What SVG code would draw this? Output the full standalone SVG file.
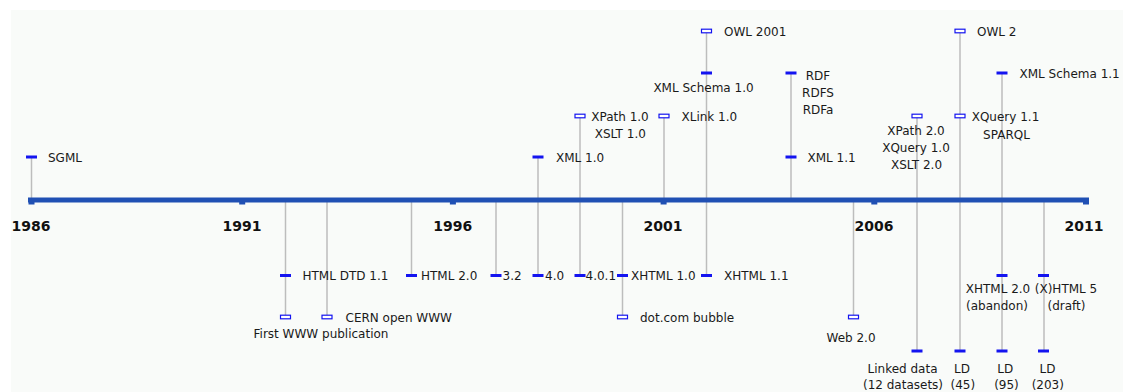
<svg xmlns="http://www.w3.org/2000/svg" width="1123" height="392" viewBox="0 0 1123 392">
<style>
.lbl{font-family:"DejaVu Sans","Liberation Sans",sans-serif;font-size:12px;fill:#1a1a1a}
.mid{text-anchor:middle}
.yr{font-family:"DejaVu Sans","Liberation Sans",sans-serif;font-size:14px;font-weight:bold;fill:#111;text-anchor:middle}
.stem{stroke:#bdbdbd;stroke-width:1.5;fill:none}
.f{fill:#1414f0}
.h{fill:#fff;stroke:#1414f0;stroke-width:1.2}
.axis{fill:#2050b4}
</style>
<defs>
<rect id="mf" class="f" x="-5.5" y="-1.5" width="11" height="3"/>
<rect id="mh" class="h" x="-5" y="-1.8" width="10" height="3.6"/>
</defs>
<rect x="0" y="0" width="1123" height="392" fill="#fff"/>
<rect x="11" y="10" width="1112" height="382" fill="#f9fbf9"/>

<g id="connectors">
<line class="stem" x1="31.5" y1="157" x2="31.5" y2="200"/>
<line class="stem" x1="285.5" y1="200" x2="285.5" y2="317"/>
<line class="stem" x1="327" y1="200" x2="327" y2="317"/>
<line class="stem" x1="411.5" y1="200" x2="411.5" y2="275"/>
<line class="stem" x1="496" y1="200" x2="496" y2="275"/>
<line class="stem" x1="538" y1="157" x2="538" y2="275"/>
<line class="stem" x1="580" y1="116" x2="580" y2="275"/>
<line class="stem" x1="622.5" y1="200" x2="622.5" y2="317"/>
<line class="stem" x1="664" y1="116" x2="664" y2="200"/>
<line class="stem" x1="706.5" y1="31" x2="706.5" y2="275"/>
<line class="stem" x1="791" y1="73" x2="791" y2="200"/>
<line class="stem" x1="853.5" y1="200" x2="853.5" y2="317"/>
<line class="stem" x1="917" y1="116" x2="917" y2="351"/>
<line class="stem" x1="960" y1="31" x2="960" y2="351"/>
<line class="stem" x1="1002" y1="73" x2="1002" y2="351"/>
<line class="stem" x1="1044" y1="200" x2="1044" y2="351"/>
</g>

<g id="axis">
<rect class="axis" x="28" y="197.5" width="1061" height="5"/>
<rect class="axis" x="28.5" y="201" width="6" height="3.5"/>
<rect class="axis" x="239.2" y="201" width="6" height="3.5"/>
<rect class="axis" x="449.9" y="201" width="6" height="3.5"/>
<rect class="axis" x="660.6" y="201" width="6" height="3.5"/>
<rect class="axis" x="871.3" y="201" width="6" height="3.5"/>
<rect class="axis" x="1083" y="201" width="6" height="3.5"/>
<text class="yr" x="31" y="230.5">1986</text>
<text class="yr" x="242" y="230.5">1991</text>
<text class="yr" x="452.8" y="230.5">1996</text>
<text class="yr" x="663" y="230.5">2001</text>
<text class="yr" x="874" y="230.5">2006</text>
<text class="yr" x="1084" y="230.5">2011</text>
</g>

<g id="sgml"><use href="#mf" x="31.5" y="157"/><text class="lbl" x="48" y="161.5">SGML</text></g>
<g id="xml10"><use href="#mf" x="538" y="157"/><text class="lbl" x="556" y="162">XML 1.0</text></g>
<g id="xpath10"><use href="#mh" x="580" y="116"/><text class="lbl mid" x="620" y="121">XPath 1.0</text><text class="lbl mid" x="620.3" y="138">XSLT 1.0</text></g>
<g id="xlink10"><use href="#mh" x="664" y="116"/><text class="lbl" x="681.5" y="121">XLink 1.0</text></g>
<g id="xmlschema10"><use href="#mf" x="706.5" y="73"/><text class="lbl mid" x="703.5" y="92">XML Schema 1.0</text></g>
<g id="owl2001"><use href="#mh" x="706.5" y="31"/><text class="lbl" x="724" y="36">OWL 2001</text></g>
<g id="rdf"><use href="#mf" x="791" y="73"/><text class="lbl mid" x="818" y="80">RDF</text><text class="lbl mid" x="818" y="97">RDFS</text><text class="lbl mid" x="818" y="114">RDFa</text></g>
<g id="xml11"><use href="#mf" x="791" y="157"/><text class="lbl" x="807.5" y="162">XML 1.1</text></g>
<g id="xpath20"><use href="#mh" x="917" y="116"/><text class="lbl mid" x="916" y="135">XPath 2.0</text><text class="lbl mid" x="916" y="152">XQuery 1.0</text><text class="lbl mid" x="916.5" y="169">XSLT 2.0</text></g>
<g id="owl2"><use href="#mh" x="960" y="31"/><text class="lbl" x="977" y="36">OWL 2</text></g>
<g id="xquery11"><use href="#mh" x="960" y="116"/><text class="lbl mid" x="1005.5" y="121">XQuery 1.1</text><text class="lbl mid" x="1006.5" y="139">SPARQL</text></g>
<g id="xmlschema11"><use href="#mf" x="1002" y="73"/><text class="lbl" x="1019.5" y="78">XML Schema 1.1</text></g>

<g id="htmldtd11"><use href="#mf" x="285.5" y="275.5"/><text class="lbl" x="302.5" y="280">HTML DTD 1.1</text></g>
<g id="html20"><use href="#mf" x="411.5" y="275.5"/><text class="lbl" x="421" y="280">HTML 2.0</text></g>
<g id="html32"><use href="#mf" x="496" y="275.5"/><text class="lbl" x="502.5" y="280">3.2</text></g>
<g id="html40"><use href="#mf" x="538" y="275.5"/><text class="lbl" x="545" y="280">4.0</text></g>
<g id="html401"><use href="#mf" x="580" y="275.5"/><text class="lbl" x="585.5" y="280">4.0.1</text></g>
<g id="xhtml10"><use href="#mf" x="622.5" y="275.5"/><text class="lbl" x="631" y="280">XHTML 1.0</text></g>
<g id="xhtml11"><use href="#mf" x="706.5" y="275.5"/><text class="lbl" x="724" y="280">XHTML 1.1</text></g>
<g id="xhtml20"><use href="#mf" x="1002" y="275.5"/><text class="lbl mid" x="998" y="293">XHTML 2.0</text><text class="lbl mid" x="997" y="310">(abandon)</text></g>
<g id="html5"><use href="#mf" x="1043.5" y="275.5"/><text class="lbl mid" x="1066" y="293">(X)HTML 5</text><text class="lbl mid" x="1066.5" y="310">(draft)</text></g>

<g id="firstwww"><use href="#mh" x="285.5" y="317"/><text class="lbl mid" x="321" y="338">First WWW publication</text></g>
<g id="cern"><use href="#mh" x="327" y="317"/><text class="lbl" x="345.5" y="322">CERN open WWW</text></g>
<g id="dotcom"><use href="#mh" x="622.5" y="317"/><text class="lbl" x="640" y="322">dot.com bubble</text></g>
<g id="web20"><use href="#mh" x="853.5" y="317"/><text class="lbl mid" x="851" y="341.5">Web 2.0</text></g>

<g id="linkeddata"><use href="#mf" x="917" y="351"/><text class="lbl mid" x="902.5" y="372.5">Linked data</text><text class="lbl mid" x="903" y="389">(12 datasets)</text></g>
<g id="ld45"><use href="#mf" x="960" y="351"/><text class="lbl mid" x="962" y="372.5">LD</text><text class="lbl mid" x="962.8" y="389">(45)</text></g>
<g id="ld95"><use href="#mf" x="1002" y="351"/><text class="lbl mid" x="1005.3" y="372.5">LD</text><text class="lbl mid" x="1006.5" y="389">(95)</text></g>
<g id="ld203"><use href="#mf" x="1043.5" y="351"/><text class="lbl mid" x="1047.5" y="372.5">LD</text><text class="lbl mid" x="1047.8" y="389">(203)</text></g>
</svg>
